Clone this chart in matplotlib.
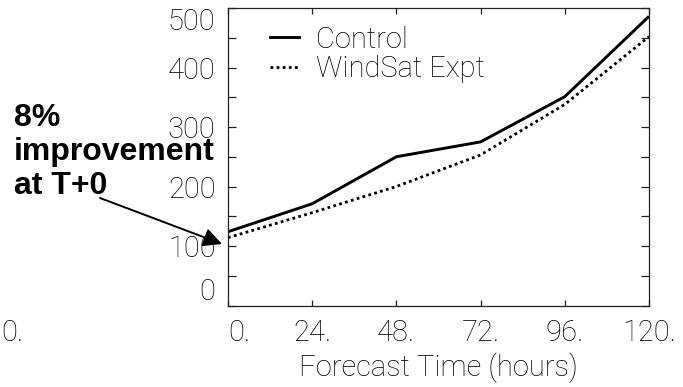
import matplotlib
matplotlib.use("Agg")
import matplotlib.pyplot as plt
from matplotlib.lines import Line2D
from matplotlib.ticker import MultipleLocator

# forecast hours and RMS-type error for both runs
hours = [0, 24, 48, 72, 96, 120]
control = [124, 171, 250, 275, 351, 486]
windsat = [114, 156, 200, 253, 338, 452]
x_tick_labels = ["0.", "24.", "48.", "72.", "96.", "120."]
y_ticks = [0, 100, 200, 300, 400, 500]

W, H = 683, 387
thin = dict(family="Roboto", weight="light")
fs = 21

fig = plt.figure(figsize=(W / 100, H / 100), dpi=100)
ax = fig.add_axes([228 / W, 1 - 305.5 / H, (649 - 228) / W, (305.5 - 8) / H])

ax.plot(hours, control, color="black", lw=2.1, solid_capstyle="butt", label="Control")
ax.plot(hours, windsat, color="black", lw=2.0, ls=(0, (1, 1.2)), label="WindSat Expt")

ax.set_xlim(0, 120)
ax.set_ylim(0, 500)
ax.set_xticks(hours)
ax.set_xticklabels(x_tick_labels, fontsize=fs, **thin)
ax.set_yticks(y_ticks)
ax.set_yticklabels([str(v) for v in y_ticks], fontsize=fs, **thin)
ax.yaxis.set_minor_locator(MultipleLocator(50))

for sp in ax.spines.values():
    sp.set_linewidth(0.9)
    sp.set_color("#222222")
ax.tick_params(axis="x", which="major", direction="in", length=4, width=0.9,
               top=True, pad=10, colors="#222222", labelcolor="black")
ax.tick_params(axis="y", which="both", direction="in", length=5.5, width=0.9,
               right=True, pad=9, colors="#222222", labelcolor="black")

# IDL-style: end labels kept inside the axis range
xl = ax.get_xticklabels()
xl[0].set_ha("left")
yl = ax.get_yticklabels()
yl[0].set_va("bottom")
yl[-1].set_va("top")

ax.set_xlabel("Forecast Time (hours)", fontsize=fs, labelpad=4, **thin)

handles = [Line2D([], [], color="black", lw=2.1),
           Line2D([], [], color="black", lw=2.0, ls=(0, (1, 1.2)))]
leg = ax.legend(handles, ["Control", "WindSat Expt"], loc="upper left",
                bbox_to_anchor=(0.064, 0.99), frameon=False, borderpad=0,
                handlelength=1.0, handletextpad=0.6, labelspacing=0.05,
                prop=dict(family="Roboto", weight="light", size=fs))

# stray label from the neighbouring panel
fig.text(1 / W, 1 - 333 / H, "0.", fontsize=fs, va="center", ha="left", **thin)

fig.text(14 / W, 1 - 103 / H, "8%\nimprovement\nat T+0", fontsize=23,
         fontweight="bold", family="Liberation Sans", va="top", ha="left",
         linespacing=1.17)
ax.annotate("", xy=(222 / W, 1 - 244 / H), xycoords="figure fraction",
            xytext=(100 / W, 1 - 198 / H), textcoords="figure fraction",
            arrowprops=dict(arrowstyle="-|>", color="black", lw=1.4,
                            mutation_scale=28, shrinkA=0, shrinkB=0),
            annotation_clip=False)

fig.savefig("out.png", dpi=100)
